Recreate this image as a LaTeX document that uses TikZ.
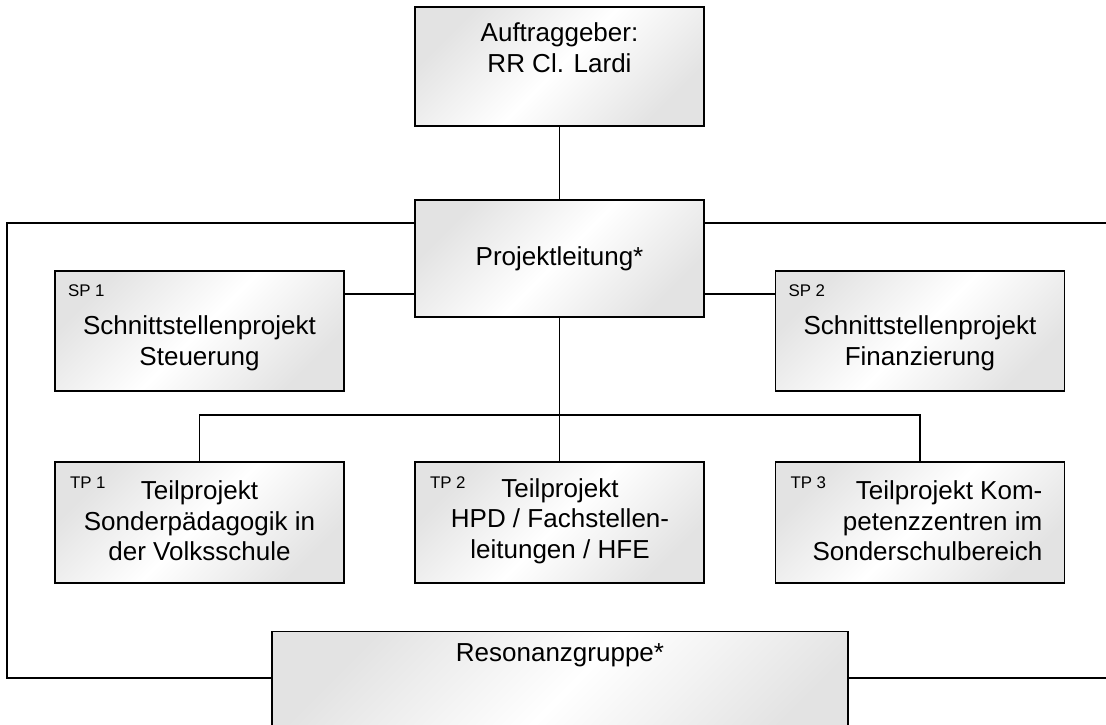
\documentclass[tikz,border=0pt]{standalone}
\usepackage{fontspec}
\setmainfont{Liberation Sans}
\usetikzlibrary{positioning}

\begin{document}
\begin{tikzpicture}[line width=0.7pt,
    box/.style={draw, left color=gray!22, right color=gray!22, middle color=white,
      shading angle=45, minimum width=5.78cm, minimum height=2.4cm, inner sep=0pt},
    txt/.style={align=center, inner sep=0pt, font=\fontsize{14.8}{17.4}\selectfont},
    tag/.style={anchor=west, inner sep=0pt, font=\fontsize{9.6}{11}\selectfont}]
  \useasboundingbox (0,0) rectangle (22.12,14.48);
  \clip (0,0) rectangle (22.12,14.48);

  % boxes
  \node[box, minimum height=2.38cm] (auf) at (11.19,13.15) {};
  \node[box, minimum height=2.34cm] (pl) at (11.19,9.31) {};
  \node[box] (sp1) at (3.99,7.86) {};
  \node[box] (sp2) at (18.4,7.86) {};
  \node[box, minimum height=2.42cm] (tp1) at (3.99,4.03) {};
  \node[box, minimum height=2.42cm] (tp2) at (11.19,4.03) {};
  \node[box, minimum height=2.42cm] (tp3) at (18.4,4.03) {};
  \node[box, minimum width=11.52cm, minimum height=2.6cm, anchor=north] (reso) at (11.2,1.86) {};

  % texts
  \node[txt] (auftxt) at (11.19,13.53) {Auftraggeber:\\RR Cl. Lardi};
  \node[txt] (pltxt) at (pl) {Projektleitung*};
  \node[tag] (sp1tag) at ([xshift=0.26cm,yshift=-0.4cm]sp1.north west) {SP 1};
  \node[txt] (sp1txt) at (3.99,7.61) {Schnittstellenprojekt\\Steuerung};
  \node[tag] (sp2tag) at ([xshift=0.26cm,yshift=-0.4cm]sp2.north west) {SP 2};
  \node[txt] (sp2txt) at (18.4,7.61) {Schnittstellenprojekt\\Finanzierung};
  \node[tag] (tp1tag) at ([xshift=0.3cm,yshift=-0.42cm]tp1.north west) {TP 1};
  \node[txt] (tp1txt) at (3.99,4.06) {Teilprojekt\\Sonderpädagogik in\\der Volksschule};
  \node[tag] (tp2tag) at ([xshift=0.3cm,yshift=-0.42cm]tp2.north west) {TP 2};
  \node[txt] (tp2txt) at (11.2,4.06) {Teilprojekt\\HPD / Fachstellen-\\leitungen / HFE};
  \node[tag] (tp3tag) at ([xshift=0.3cm,yshift=-0.42cm]tp3.north west) {TP 3};
  \node[txt, align=right, anchor=east] (tp3txt) at (20.86,4.06)
    {Teilprojekt Kom-\\petenzzentren im\\Sonderschulbereich};
  \node[txt] (resotxt) at (11.2,1.38) {Resonanzgruppe*};

  % lines
  \coordinate (frameNW) at (0.14,10.02);
  \coordinate (frameSW) at (0.14,0.92);
  \coordinate (frameNE) at (22.4,10.02);
  \coordinate (frameSE) at (22.4,0.92);
  \coordinate (spline) at (0,8.6);
  \coordinate (bus) at (0,6.18);

  \draw (auf) -- (pl);
  \draw (pl.west |- frameNW) -- (frameNW) -- (frameSW) -- (reso.west |- frameSW);
  \draw (pl.east |- frameNE) -- (frameNE);
  \draw (reso.east |- frameSE) -- (frameSE);
  \draw (sp1.east |- spline) -- (pl.west |- spline);
  \draw (pl.east |- spline) -- (sp2.west |- spline);
  \draw (pl) -- (tp2);
  \draw (tp1.north) -- (tp1.north |- bus) -- (tp3.north |- bus) -- (tp3.north);
\end{tikzpicture}
\end{document}
